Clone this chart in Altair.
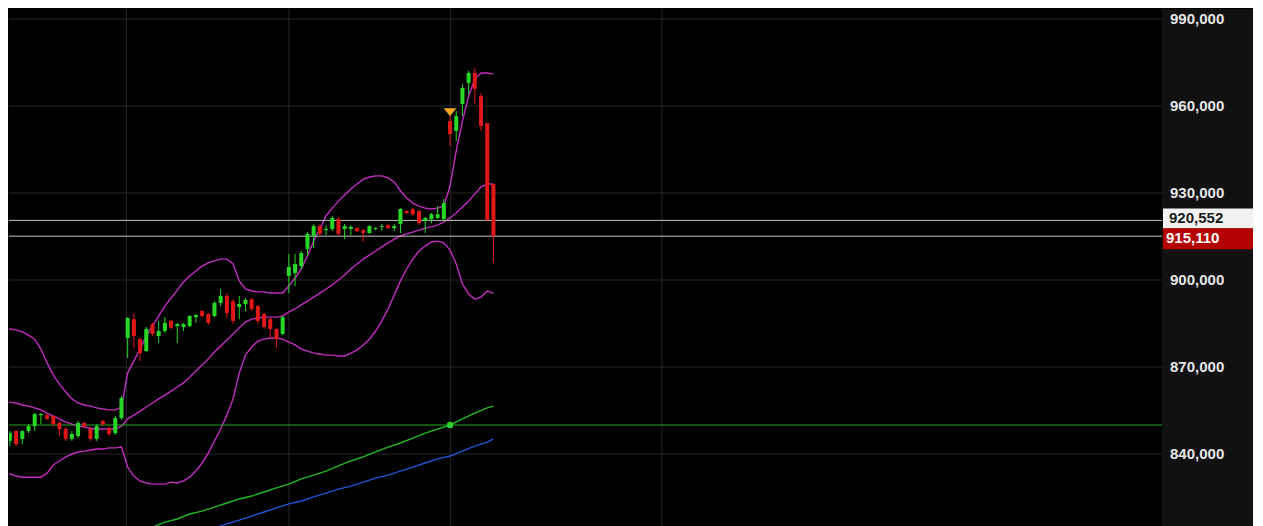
import altair as alt
import pandas as pd

# ---------------- data ----------------
idx = list(range(80))
opens = [843800, 844500, 847900, 845200, 847900, 849600, 853400, 853400, 853100, 850700,
         848600, 845200, 846200, 850700, 848600, 845200, 851400, 848900, 847200, 852400,
         880000, 886500, 879600, 875500, 884800, 880700, 882400, 885900, 884100, 883800,
         884100, 887200, 889300, 888300, 887600, 892100, 894500, 892700, 890700, 891700,
         893400, 891000, 888300, 886500, 883100, 881400, 901400, 902400, 904800, 910700,
         915200, 918600, 917200, 917600, 921000, 917600, 917600, 917900, 917200, 916200,
         917600, 918300, 918900, 917900, 919300, 923800, 924500, 923800, 920300, 921000,
         921400, 921000, 954800, 951400, 960700, 967900, 971400, 963400, 954100, 933100]
highs = [847900, 847900, 848300, 848300, 850300, 854100, 854100, 853800, 853400, 851400,
         849300, 847900, 851400, 851000, 849300, 850300, 851700, 849600, 853100, 860000,
         887200, 888600, 880300, 883800, 885200, 885900, 887200, 886200, 885200, 885200,
         887900, 888300, 889700, 888600, 892700, 896900, 895500, 893400, 894500, 893800,
         893800, 891400, 888600, 886900, 883500, 887600, 909000, 909000, 910000, 916500,
         919300, 919300, 918900, 922100, 921700, 919300, 918900, 918300, 917600, 918900,
         918300, 919300, 919300, 919300, 924800, 924100, 924800, 924100, 921700, 923100,
         925500, 927900, 956900, 958300, 967600, 972100, 973100, 964500, 954100, 933100]
lows = [841000, 842700, 842700, 843400, 847200, 847900, 850300, 851700, 849600, 846200,
        844500, 844500, 845500, 848900, 844500, 844500, 849600, 846200, 846500, 851700,
        873100, 876600, 872100, 875200, 880700, 878300, 881700, 883100, 878300, 882400,
        883800, 885200, 887200, 884500, 887200, 891000, 886900, 884800, 886500, 889300,
        889300, 884800, 883100, 880000, 876600, 881000, 895500, 897900, 903800, 908300,
        911000, 915200, 915500, 916900, 915200, 914100, 915500, 916500, 913100, 915900,
        917200, 916900, 917600, 916900, 916200, 922700, 922100, 918900, 916200, 919600,
        921000, 920300, 946200, 947900, 956500, 964100, 960700, 951400, 920552, 905900]
closes = [845200, 847200, 843400, 847900, 849600, 853800, 853800, 852100, 850300, 848600,
          845200, 846900, 850700, 849600, 845200, 849600, 850300, 846900, 852400, 859300,
          886900, 880700, 874800, 883100, 881400, 882400, 885200, 883500, 884800, 884800,
          887600, 887900, 887600, 885200, 892100, 894500, 888600, 885900, 891700, 893100,
          890000, 885900, 883800, 883100, 879600, 887200, 904500, 905500, 909300, 915900,
          918600, 915900, 917600, 921400, 915900, 918600, 918300, 916900, 916200, 918600,
          917900, 918600, 917900, 918600, 924500, 923100, 922700, 919600, 921400, 922700,
          922700, 926500, 950300, 956500, 966200, 971400, 965900, 953100, 920552, 915110]

bb_upper = [883500, 883100, 882800, 882100, 881000, 879600, 876200, 871400, 867200, 864100,
            861400, 859000, 857600, 856900, 856500, 855900, 855500, 855200, 855200, 856200,
            867900, 872100, 876200, 880700, 884100, 887600, 891000, 893800, 896500, 899300,
            901400, 903100, 904800, 905900, 906600, 907200, 907200, 905500, 899700, 896900,
            896200, 895900, 895900, 895500, 895500, 895500, 897900, 900700, 903800, 908300,
            913400, 917600, 922100, 924800, 927200, 929300, 931400, 933100, 934800, 935500,
            935900, 935900, 935200, 933800, 930700, 928300, 926500, 925500, 924800, 924500,
            924800, 925500, 932400, 944500, 954800, 963400, 969300, 971400, 971400, 971000]
bb_mid = [858300, 857900, 857600, 856900, 856500, 855900, 855200, 854100, 853100, 852100,
          851000, 850300, 849600, 849300, 848900, 848600, 848600, 848600, 848600, 849600,
          852100, 853400, 854800, 856200, 857600, 859000, 860300, 861700, 863100, 864500,
          866500, 868600, 870700, 872800, 875200, 877200, 879300, 881400, 883500, 885500,
          886500, 886900, 887200, 887200, 887200, 887600, 889000, 890000, 891400, 892700,
          894100, 895500, 896900, 898300, 900000, 901700, 903800, 905500, 907200, 908600,
          910000, 911400, 912800, 914100, 915200, 915900, 916500, 917200, 917900, 918300,
          918900, 920000, 921400, 923100, 925200, 927200, 929700, 932100, 933100, 933100]
bb_lower = [834100, 833100, 832400, 832000, 832000, 832000, 832000, 833400, 836200, 837600,
            839000, 840000, 840700, 841000, 841400, 841700, 841700, 842100, 842100, 842400,
            835500, 832400, 830700, 830000, 829600, 829600, 829600, 830300, 830000, 830700,
            832000, 834100, 836900, 840300, 844500, 848600, 853400, 859000, 867900, 874100,
            876900, 878900, 879600, 880000, 880000, 879600, 878600, 877600, 876200, 875500,
            874800, 874500, 874100, 874100, 873800, 873800, 874800, 875900, 877600, 879600,
            882400, 885900, 890000, 894800, 899700, 903800, 907200, 910000, 911700, 913100,
            913400, 912800, 910300, 905500, 898600, 895200, 893400, 894100, 896200, 895500]

ma_green_idx = [22, 24, 26, 28, 30, 32, 34, 36, 38, 40, 42, 44, 46, 48, 50, 52, 54, 56, 58,
                60, 62, 64, 66, 68, 70, 72, 74, 76, 78, 79]
ma_green = [813400, 814800, 816500, 817600, 819300, 820300, 821700, 823100, 824500, 825500,
            826900, 828300, 829600, 831400, 832700, 834100, 835900, 837600, 839000, 840700,
            842400, 843800, 845500, 847200, 848600, 850000, 852100, 854100, 855900, 856500]
ma_blue_idx = [34, 36, 38, 40, 42, 44, 46, 48, 50, 52, 54, 56, 58, 60, 62, 64, 66, 68, 70,
               72, 74, 76, 78, 79]
ma_blue = [814500, 815900, 817200, 818600, 820000, 821400, 822800, 823800, 825200, 826500,
           827900, 828900, 830300, 831700, 832700, 834100, 835500, 836900, 838300, 839300,
           841000, 842700, 844100, 845200]

y_ticks = [840000, 870000, 900000, 930000, 960000, 990000]
x_grid = [19.8, 46.0, 72.1, 106.2]
level_value = [850000]
cross_idx = [72]
signal_idx = [72]
signal_value = [957900]
prev_close = [920552]
last_close = [915110]

# ---------------- chart ----------------
W, H = 1153, 518
xs = alt.Scale(domain=[0.855, 186.85], nice=False, zero=False, padding=0)
ys = alt.Scale(domain=[814828, 993448], nice=False, zero=False, padding=0)

UP, DOWN = "#27d827", "#e01818"
MAGENTA = "#c22ec2"
FONT = "Liberation Sans"

candles = pd.DataFrame({"i": idx, "open": opens, "high": highs, "low": lows, "close": closes})
candles["dir"] = ["up" if c >= o else "down" for o, c in zip(opens, closes)]
color = alt.Color("dir:N", scale=alt.Scale(domain=["up", "down"], range=[UP, DOWN]), legend=None)

bands = pd.DataFrame({"i": idx * 3,
                      "v": bb_upper + bb_mid + bb_lower,
                      "band": ["upper"] * 80 + ["mid"] * 80 + ["lower"] * 80})


def X(f):
    return alt.X(f, type="quantitative", scale=xs, axis=None)


def Y(f):
    return alt.Y(f, type="quantitative", scale=ys, axis=None)


axis_bg = alt.Chart(pd.DataFrame({"a": [0]})).mark_rect(color="#111111").encode(
    x=alt.value(W), x2=alt.value(W + 91), y=alt.value(0), y2=alt.value(H))

vgrid = alt.Chart(pd.DataFrame({"g": x_grid})).mark_rule(color="#272727", strokeWidth=1).encode(
    x=X("g"), y=alt.value(0), y2=alt.value(H))

hgrid = alt.Chart(pd.DataFrame({"v": y_ticks})).mark_rule(color="#272727", strokeWidth=1).encode(
    y=Y("v"), x=alt.value(0), x2=alt.value(W))

tick_labels = alt.Chart(pd.DataFrame({"v": y_ticks})).mark_text(
    align="left", baseline="middle", color="#e6e6e6", font=FONT, fontSize=15,
    fontWeight="bold").encode(x=alt.value(W + 8), y=Y("v"), text=alt.Text("v:Q", format=",d"))

green_ma = alt.Chart(pd.DataFrame({"i": ma_green_idx, "v": ma_green})).mark_line(
    color="#22b822", strokeWidth=1.4, clip=True).encode(x=X("i"), y=Y("v"))
blue_ma = alt.Chart(pd.DataFrame({"i": ma_blue_idx, "v": ma_blue})).mark_line(
    color="#1f55d8", strokeWidth=1.4, clip=True).encode(x=X("i"), y=Y("v"))

band_lines = alt.Chart(bands).mark_line(color=MAGENTA, strokeWidth=1.4, clip=True).encode(
    x=X("i"), y=Y("v"), detail="band:N")

level = alt.Chart(pd.DataFrame({"v": level_value})).mark_rule(color="#23a823", strokeWidth=1).encode(
    y=Y("v"), x=alt.value(0), x2=alt.value(W))

price_lines = alt.Chart(pd.DataFrame({"v": prev_close + last_close})).mark_rule(
    color="#c4c4c4", strokeWidth=1).encode(y=Y("v"), x=alt.value(0), x2=alt.value(W))

wicks = alt.Chart(candles).mark_rule(strokeWidth=1, clip=True).encode(
    x=X("i"), y=Y("low"), y2=alt.Y2("high"), color=color)
bodies = alt.Chart(candles).mark_bar(size=4, clip=True, orient="vertical").encode(
    x=X("i"), y=Y("open"), y2=alt.Y2("close"), color=color)

dot = alt.Chart(pd.DataFrame({"i": cross_idx, "v": level_value})).mark_circle(
    size=42, color="#2fd02f", opacity=1).encode(x=X("i"), y=Y("v"))

signal = alt.Chart(pd.DataFrame({"i": signal_idx, "v": signal_value})).mark_point(
    shape="M-1,-0.6L1,-0.6L0,0.6Z", size=169, filled=True, color="#f5a623", opacity=1).encode(
    x=X("i"), y=Y("v"))

prev_box = alt.Chart(pd.DataFrame({"v": prev_close})).mark_rect(
    color="#f2f2f2", yOffset=-12, y2Offset=8).encode(
    y=Y("v"), y2=alt.Y2("v"), x=alt.value(W + 1), x2=alt.value(W + 91))
prev_text = alt.Chart(pd.DataFrame({"v": prev_close})).mark_text(
    align="left", baseline="middle", dy=-2, color="#1a1a1a", font=FONT, fontSize=15,
    fontWeight="bold").encode(x=alt.value(W + 7), y=Y("v"), text=alt.Text("v:Q", format=",d"))

last_box = alt.Chart(pd.DataFrame({"v": last_close})).mark_rect(
    color="#b30000", yOffset=-8, y2Offset=13).encode(
    y=Y("v"), y2=alt.Y2("v"), x=alt.value(W + 1), x2=alt.value(W + 91))
last_text = alt.Chart(pd.DataFrame({"v": last_close})).mark_text(
    align="left", baseline="middle", dy=2, color="#ffffff", font=FONT, fontSize=15,
    fontWeight="bold").encode(x=alt.value(W + 4), y=Y("v"), text=alt.Text("v:Q", format=",d"))

chart = alt.layer(
    axis_bg, vgrid, hgrid, tick_labels, green_ma, blue_ma, band_lines, level, price_lines,
    wicks, bodies, dot, signal, prev_box, prev_text, last_box, last_text
).properties(width=W, height=H, padding=0).configure(background="#000000").configure_view(stroke=None)

chart.save("out.html", embed_options={"renderer": "svg", "actions": False})
